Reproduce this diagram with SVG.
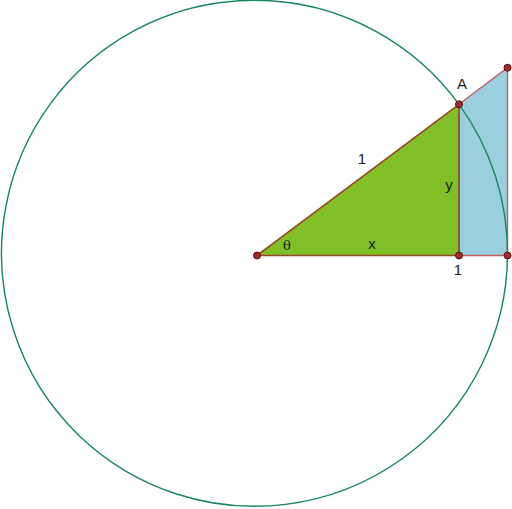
<svg xmlns="http://www.w3.org/2000/svg" width="512" height="509" viewBox="0 0 512 509">
<style>
.lbl{font-family:"Liberation Sans",Arial,sans-serif;font-size:15px;fill:#1a1a1a;text-anchor:middle}
.pt{fill:#a52a2a;stroke:#5a0f0f;stroke-width:1}
</style>
<rect width="512" height="509" fill="#ffffff"/>
<g id="blue-region">
<polygon points="459,104.3 507.5,67.7 507.5,255.5 459,255.5" fill="#9bcfdd" stroke="#c46060" stroke-width="1.4"/>
</g>
<g id="green-triangle">
<polygon points="257,255.5 459,104.3 459,255.5" fill="#80bf25" stroke="#9a4a2a" stroke-width="1.6"/>
</g>
<g id="circle">
<path d="M 459 104.3 A 253 253 0 0 1 507.5 255.5" fill="none" stroke="#17875a" stroke-width="1.4"/>
<path d="M 507.5 255.5 A 253 253 0 1 1 459 104.3" fill="none" stroke="#17875a" stroke-width="1.4"/>
</g>
<g id="connectors">
<line x1="459" y1="104.3" x2="459" y2="255.5" stroke="#8b5a3a" stroke-width="1.6"/>
</g>
<g id="points">
<circle id="O" class="pt" cx="257" cy="255.5" r="3.5"/>
<circle id="A" class="pt" cx="459" cy="104.3" r="3.5"/>
<circle id="foot" class="pt" cx="459" cy="255.5" r="3.5"/>
<circle id="P1" class="pt" cx="507.5" cy="255.5" r="3.5"/>
<circle id="T" class="pt" cx="507.5" cy="67.7" r="3.5"/>
</g>
<g id="labels">
<text class="lbl" x="462" y="89">A</text>
<text class="lbl" x="362" y="164">1</text>
<text class="lbl" x="449" y="190">y</text>
<text class="lbl" x="287" y="250" style="font-family:'DejaVu Serif',serif;font-size:13px">θ</text>
<text class="lbl" x="372" y="249">x</text>
<text class="lbl" x="458" y="275">1</text>
</g>
</svg>
